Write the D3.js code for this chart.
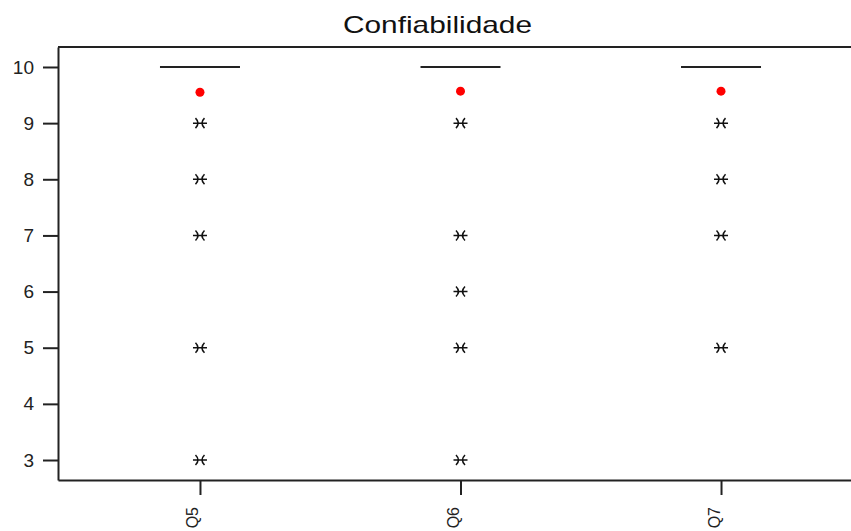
<!DOCTYPE html>
<html>
<head>
<meta charset="utf-8">
<script src="https://cdn.jsdelivr.net/npm/d3@7"></script>
<style>
  body { margin: 0; background: #fff; }
  text { font-family: "Liberation Sans", Arial, sans-serif; }
</style>
</head>
<body>
<div id="chart"></div>
<script>
// dados
const categorias = ["Q5", "Q6", "Q7"];
const medianas = [10, 10, 10];
const medias = [9.55, 9.57, 9.57];
const outliersQ5 = [9, 8, 7, 5, 3];
const outliersQ6 = [9, 7, 6, 5, 3];
const outliersQ7 = [9, 8, 7, 5];
const yTicks = [3, 4, 5, 6, 7, 8, 9, 10];

const outliers = [outliersQ5, outliersQ6, outliersQ7];

const width = 851, height = 531;
const margin = { top: 47, right: -12, bottom: 51, left: 58 };

const svg = d3.select("#chart")
    .append("svg")
    .attr("width", width)
    .attr("height", height);

// Escalas
const x = d3.scalePoint()
    .domain(categorias)
    .range([margin.left, width - margin.right])
    .padding(0.545);

const y = d3.scaleLinear()
    .domain([2.644, 10.356])
    .range([height - margin.bottom, margin.top]);

// Título
svg.append("text")
    .attr("x", 343)
    .attr("y", 33)
    .attr("textLength", 189)
    .attr("lengthAdjust", "spacingAndGlyphs")
    .style("font-size", "24px")
    .attr("fill", "#111")
    .text("Confiabilidade");

// Borda superior
svg.append("line")
    .attr("x1", margin.left).attr("x2", width)
    .attr("y1", margin.top).attr("y2", margin.top)
    .attr("stroke", "#222").attr("stroke-width", 2);

// Eixo Y
const gy = svg.append("g")
    .attr("transform", `translate(${margin.left},0)`)
    .call(d3.axisLeft(y).tickValues(yTicks).tickSize(15).tickPadding(9).tickSizeOuter(0));
gy.select(".domain").attr("stroke", "#222").attr("stroke-width", 2);
gy.selectAll(".tick line").attr("stroke", "#222").attr("stroke-width", 2);
gy.selectAll(".tick text").style("font-size", "19px").attr("fill", "#222");

// Eixo X
const gx = svg.append("g")
    .attr("transform", `translate(0,${height - margin.bottom})`)
    .call(d3.axisBottom(x).tickSize(15).tickSizeOuter(0));
gx.select(".domain").attr("stroke", "#222").attr("stroke-width", 2);
gx.selectAll(".tick line").attr("stroke", "#222").attr("stroke-width", 2);
gx.selectAll(".tick text")
    .style("font-size", "16px")
    .attr("fill", "#222")
    .attr("transform", "rotate(-90)")
    .attr("text-anchor", "end")
    .attr("dy", 0)
    .attr("x", -27)
    .attr("y", -2);

// Linhas das medianas
svg.selectAll(".mediana")
    .data(categorias)
    .enter()
    .append("line")
    .attr("class", "mediana")
    .attr("x1", (d) => x(d) - 40)
    .attr("x2", (d) => x(d) + 40)
    .attr("y1", (d, i) => y(medianas[i]))
    .attr("y2", (d, i) => y(medianas[i]))
    .attr("stroke", "#222")
    .attr("stroke-width", 2);

// Médias
svg.selectAll(".media")
    .data(categorias)
    .enter()
    .append("circle")
    .attr("class", "media")
    .attr("cx", (d) => x(d))
    .attr("cy", (d, i) => y(medias[i]))
    .attr("r", 4.5)
    .attr("fill", "#ff0000");

// Outliers (asteriscos)
const pontos = [];
categorias.forEach((c, i) => outliers[i].forEach(v => pontos.push({ cat: c, valor: v })));

const ast = svg.selectAll(".outlier")
    .data(pontos)
    .enter()
    .append("g")
    .attr("class", "outlier")
    .attr("transform", d => `translate(${x(d.cat)},${y(d.valor)})`);

ast.append("path")
    .attr("d", "M-7,0H7M-4.5,-5Q0.5,0 -4.5,5M4.5,-5Q-0.5,0 4.5,5")
    .attr("fill", "none")
    .attr("stroke", "#111")
    .attr("stroke-width", 1.5);
</script>
</body>
</html>
